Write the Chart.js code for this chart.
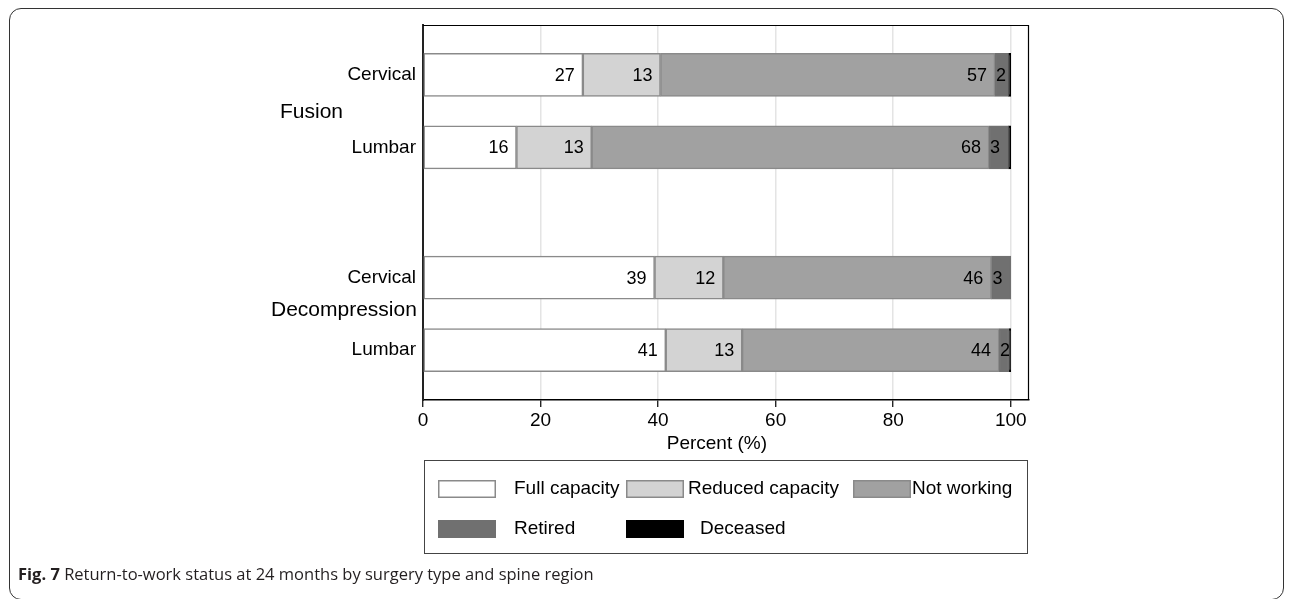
<!DOCTYPE html>
<html>
<head>
<meta charset="utf-8">
<script src="https://cdn.jsdelivr.net/npm/chart.js@4.4.1/dist/chart.umd.min.js"></script>
<style>
  html, body { margin: 0; padding: 0; background: #fff; }
  #wrap { position: relative; width: 1293px; height: 599px; overflow: hidden; }
  #chart { position: absolute; left: 0; top: 0; }
  #frame {
    position: absolute; left: 9px; top: 8px; width: 1275px; height: 592px;
    border: 1.5px solid #333; border-radius: 12px; box-sizing: border-box;
  }
  #caption {
    position: absolute; left: 18px; top: 562px; white-space: nowrap;
    font-family: 'Open Sans', sans-serif; font-size: 16.5px; color: #231f20;
  }
</style>
</head>
<body>
<div id="wrap">
  <div id="frame"></div>
  <canvas id="chart" width="1293" height="599"></canvas>
  <div id="caption"><b>Fig. 7</b> Return-to-work status at 24 months by surgery type and spine region</div>
</div>
<script>
// data
const regions = ['Cervical', 'Lumbar', 'Cervical', 'Lumbar'];
const surgeryTypes = ['Fusion', 'Decompression'];
const statusLabels = ['Full capacity', 'Reduced capacity', 'Not working', 'Retired', 'Deceased'];
const fullCapacity = [27.2, 15.9, 39.4, 41.3];
const reducedCapacity = [13.2, 12.8, 11.7, 13.0];
const notWorking = [56.9, 67.6, 45.6, 43.7];
const retired = [2.3, 3.3, 3.3, 1.7];
const deceased = [0.4, 0.4, 0, 0.3];
const percentTicks = [0, 20, 40, 60, 80, 100];

// layout: rows of a group are 1 unit apart, groups are spread further
const GROUP_STEP = 2.8;
const Y_PAD = 0.69;
const rowPos = regions.map((r, i) => Math.floor(i / 2) * GROUP_STEP + (i % 2));
const FONT = "'Liberation Sans', Arial, sans-serif";

const series = [fullCapacity, reducedCapacity, notWorking, retired, deceased];
const fills = ['#ffffff', '#d3d3d3', '#a1a1a1', '#707070', '#000000'];
const edges = ['#8a8a8a', '#8a8a8a', '#8a8a8a', '#707070', '#000000'];

// legend placement (box x, text x, row)
const legendSpots = [
    { box: 438, text: 514, row: 0 },
    { box: 626, text: 688, row: 0 },
    { box: 853, text: 912, row: 0 },
    { box: 438, text: 514, row: 1 },
    { box: 626, text: 700, row: 1 }
];

const extras = {
    id: 'extras',
    afterDatasetsDraw(chart) {
        const ctx = chart.ctx;
        ctx.save();
        // bar labels: inside the segment end, small "retired" ones start at the segment
        ctx.font = '18px ' + FONT;
        ctx.fillStyle = '#000';
        ctx.textBaseline = 'middle';
        chart.data.datasets.forEach((ds, di) => {
            if (di === series.length - 1) return;
            chart.getDatasetMeta(di).data.forEach((bar, i) => {
                const txt = String(Math.round(series[di][i]));
                if (di === 3) {
                    ctx.textAlign = 'left';
                    ctx.fillText(txt, bar.base + 1, bar.y + 1);
                } else {
                    ctx.textAlign = 'right';
                    ctx.fillText(txt, bar.x - 8, bar.y + 1);
                }
            });
        });
        ctx.restore();
    },
    afterDraw(chart) {
        const ctx = chart.ctx;
        const a = chart.chartArea;
        const xs = chart.scales.x;
        const ys = chart.scales.y;
        ctx.save();
        // plot frame top & right
        ctx.strokeStyle = '#000';
        ctx.lineWidth = 1.2;
        ctx.beginPath();
        ctx.moveTo(a.left, a.top + 0.5);
        ctx.lineTo(a.right - 0.5, a.top + 0.5);
        ctx.lineTo(a.right - 0.5, a.bottom);
        ctx.stroke();

        // axis title
        ctx.fillStyle = '#000';
        ctx.font = '19px ' + FONT;
        ctx.textAlign = 'center';
        ctx.textBaseline = 'alphabetic';
        ctx.fillText('Percent (%)', xs.getPixelForValue(50), 449);

        // group labels
        const groupX = [280, 271];
        const groupDy = [1, -4];
        ctx.font = '21px ' + FONT;
        ctx.textAlign = 'left';
        ctx.textBaseline = 'middle';
        surgeryTypes.forEach((g, gi) => {
            const mid = (ys.getPixelForValue(rowPos[gi * 2]) + ys.getPixelForValue(rowPos[gi * 2 + 1])) / 2;
            ctx.fillText(g, groupX[gi], mid + groupDy[gi]);
        });

        // legend
        ctx.strokeStyle = '#444';
        ctx.lineWidth = 1;
        ctx.strokeRect(424.5, 460.5, 603, 93);
        ctx.font = '19px ' + FONT;
        chart.data.datasets.forEach((ds, di) => {
            const s = legendSpots[di];
            const top = 480 + s.row * 40;
            ctx.fillStyle = ds.backgroundColor;
            ctx.fillRect(s.box, top, 58, 18);
            ctx.strokeStyle = ds.borderColor;
            ctx.lineWidth = 1.5;
            ctx.strokeRect(s.box + 0.75, top + 0.75, 56.5, 16.5);
            ctx.fillStyle = '#000';
            ctx.fillText(ds.label, s.text, top + 9);
        });
        ctx.restore();
    }
};

new Chart(document.getElementById('chart'), {
    type: 'bar',
    data: {
        datasets: statusLabels.map((label, si) => ({
            label: label,
            data: series[si].map((v, i) => ({ x: v, y: rowPos[i] })),
            backgroundColor: fills[si],
            borderColor: edges[si],
            borderWidth: 1.5,
            borderSkipped: false,
            barThickness: 43
        }))
    },
    options: {
        indexAxis: 'y',
        responsive: false,
        animation: false,
        layout: { padding: { top: 25, right: 264, left: 0, bottom: 0 } },
        plugins: {
            legend: { display: false },
            tooltip: { enabled: false }
        },
        scales: {
            x: {
                type: 'linear',
                stacked: true,
                min: 0,
                max: 103.1,
                afterBuildTicks: s => { s.ticks = percentTicks.map(v => ({ value: v })); },
                afterFit: s => { s.height = 199; },
                grid: {
                    color: '#e4e4e4',
                    lineWidth: 1.5,
                    tickColor: '#000',
                    tickLength: 7,
                    tickWidth: 1.2
                },
                border: { display: true, color: '#000', width: 1.5 },
                ticks: {
                    color: '#000',
                    padding: 2,
                    maxRotation: 0,
                    font: { family: FONT, size: 19 }
                }
            },
            y: {
                type: 'linear',
                stacked: true,
                reverse: true,
                offset: false,
                z: 1,
                min: -Y_PAD,
                max: rowPos[rowPos.length - 1] + Y_PAD,
                afterBuildTicks: s => { s.ticks = rowPos.map(v => ({ value: v })); },
                afterFit: s => { s.width = 423; },
                grid: { display: false, drawTicks: false, offset: false },
                border: { display: true, color: '#222', width: 2 },
                ticks: {
                    color: '#000',
                    padding: 7,
                    font: { family: FONT, size: 19 },
                    callback: (v, i) => regions[i]
                }
            }
        }
    },
    plugins: [extras]
});
</script>
</body>
</html>
